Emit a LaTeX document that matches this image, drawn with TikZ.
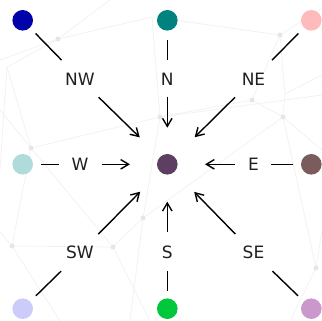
\documentclass[tikz,border=0pt]{standalone}
\usepackage{fontspec}
\setmainfont{DejaVu Sans}
\usetikzlibrary{arrows.meta}

\definecolor{cnw}{HTML}{0202AA}
\definecolor{cn}{HTML}{00827F}
\definecolor{cne}{HTML}{FFBBBB}
\definecolor{cw}{HTML}{AFDCDA}
\definecolor{cc}{HTML}{5D3F62}
\definecolor{ce}{HTML}{7B5C5C}
\definecolor{csw}{HTML}{CCCCFA}
\definecolor{cs}{HTML}{00C83C}
\definecolor{cse}{HTML}{CA98CA}
\definecolor{netline}{HTML}{F2F2F2}
\definecolor{netdot}{HTML}{E6E6E6}

\tikzset{
  dot/.style={circle, minimum size=20.6pt, inner sep=0pt, draw=none},
  lab/.style={inner sep=0pt, text=black!88, font=\fontsize{17}{17}\selectfont},
  seg/.style={line width=1.4pt, black},
  arr/.style={line width=1.4pt, black, -{Straight Barb[length=8pt,width=9.5pt]}},
  net/.style={netline, line width=0.8pt},
  netpt/.style={circle, fill=netdot, inner sep=0pt, minimum size=5pt}
}

\begin{document}
\begin{tikzpicture}[x=1pt,y=-1pt]
\useasboundingbox (0,0) rectangle (322,321);

% faint network in the background
\coordinate (p1) at (58,39);
\coordinate (p2) at (152,17);
\coordinate (p3) at (280,35);
\coordinate (p4) at (252,100);
\coordinate (p5) at (285,94);
\coordinate (p6) at (283,117);
\coordinate (p7) at (160,117);
\coordinate (p8) at (31,148);
\coordinate (p9) at (143,218);
\coordinate (p10) at (113,247);
\coordinate (p11) at (12,246);
\coordinate (p12) at (316,268);
\coordinate (p13) at (7,67);
\draw[net] (0,60) -- (p1) -- (p2) -- (p3) -- (322,8);
\draw[net] (p1) -- (p13) -- (p8) -- (p11) -- (0,232);
\draw[net] (p1) -- (110,0);
\draw[net] (p2) -- (p7) -- (p9) -- (p10) -- (p11);
\draw[net] (p3) -- (p5) -- (p6) -- (p4) -- (p7) -- (p8) -- (0,110);
\draw[net] (p4) -- (p3);
\draw[net] (p5) -- (322,75);
\draw[net] (p6) -- (322,150);
\draw[net] (p8) -- (p10) -- (150,321);
\draw[net] (p9) -- (p6);
\draw[net] (p9) -- (130,321);
\draw[net] (p11) -- (60,321);
\draw[net] (p12) -- (290,321);
\draw[net] (p12) -- (p6);
\draw[net] (p12) -- (322,230);
\draw[net] (p13) -- (0,170);
\draw[net] (p7) -- (322,95);
\foreach \p in {p1,p3,p4,p6,p7,p8,p9,p10,p11,p12}
  \node[netpt] at (\p) {};

% outer ring and centre
\node[dot, fill=cnw] (nw) at (22.7,20.3) {};
\node[dot, fill=cn]  (n)  at (167.3,20.3) {};
\node[dot, fill=cne] (ne) at (311.3,20.3) {};
\node[dot, fill=cw]  (w)  at (22.7,164.3) {};
\node[dot, fill=cc]  (c)  at (167.3,164.3) {};
\node[dot, fill=ce]  (e)  at (311.3,164.3) {};
\node[dot, fill=csw] (sw) at (22.7,308.7) {};
\node[dot, fill=cs]  (s)  at (167.3,308.7) {};
\node[dot, fill=cse] (se) at (311.3,308.7) {};

% direction labels
\node[lab] (lnw) at (80,79) {NW};
\node[lab] (ln)  at (167.3,79) {N};
\node[lab] (lne) at (253.5,79) {NE};
\node[lab] (lw)  at (80,164.3) {W};
\node[lab] (le)  at (253.5,164.3) {E};
\node[lab] (lsw) at (80,252.7) {SW};
\node[lab] (ls)  at (167.3,252.7) {S};
\node[lab] (lse) at (253.5,252.7) {SE};

% outer node to label
\draw[seg, shorten <=18.5pt, shorten >=26.5pt] (nw.center) -- (lnw.center);
\draw[seg, shorten <=18.5pt, shorten >=26.5pt] (ne.center) -- (lne.center);
\draw[seg, shorten <=18.5pt, shorten >=26.5pt] (sw.center) -- (lsw.center);
\draw[seg, shorten <=18.5pt, shorten >=26.5pt] (se.center) -- (lse.center);
\draw[seg, shorten <=19.5pt, shorten >=19pt] (n.center) -- (ln.center);
\draw[seg, shorten <=18pt, shorten >=18pt] (s.center) -- (ls.center);
\draw[seg, shorten <=18.3pt, shorten >=21pt] (w.center) -- (lw.center);
\draw[seg, shorten <=18pt, shorten >=17.2pt] (e.center) -- (le.center);

% label to centre
\draw[arr, shorten <=26pt, shorten >=38.5pt] (lnw.center) -- (c.center);
\draw[arr, shorten <=26pt, shorten >=38.5pt] (lne.center) -- (c.center);
\draw[arr, shorten <=26pt, shorten >=38.5pt] (lsw.center) -- (c.center);
\draw[arr, shorten <=26pt, shorten >=38.5pt] (lse.center) -- (c.center);
\draw[arr, shorten <=17.7pt, shorten >=36.6pt] (ln.center) -- (c.center);
\draw[arr, shorten <=21pt, shorten >=37.4pt] (ls.center) -- (c.center);
\draw[arr, shorten <=21.7pt, shorten >=37.3pt] (lw.center) -- (c.center);
\draw[arr, shorten <=18.5pt, shorten >=37.7pt] (le.center) -- (c.center);
\end{tikzpicture}
\end{document}
